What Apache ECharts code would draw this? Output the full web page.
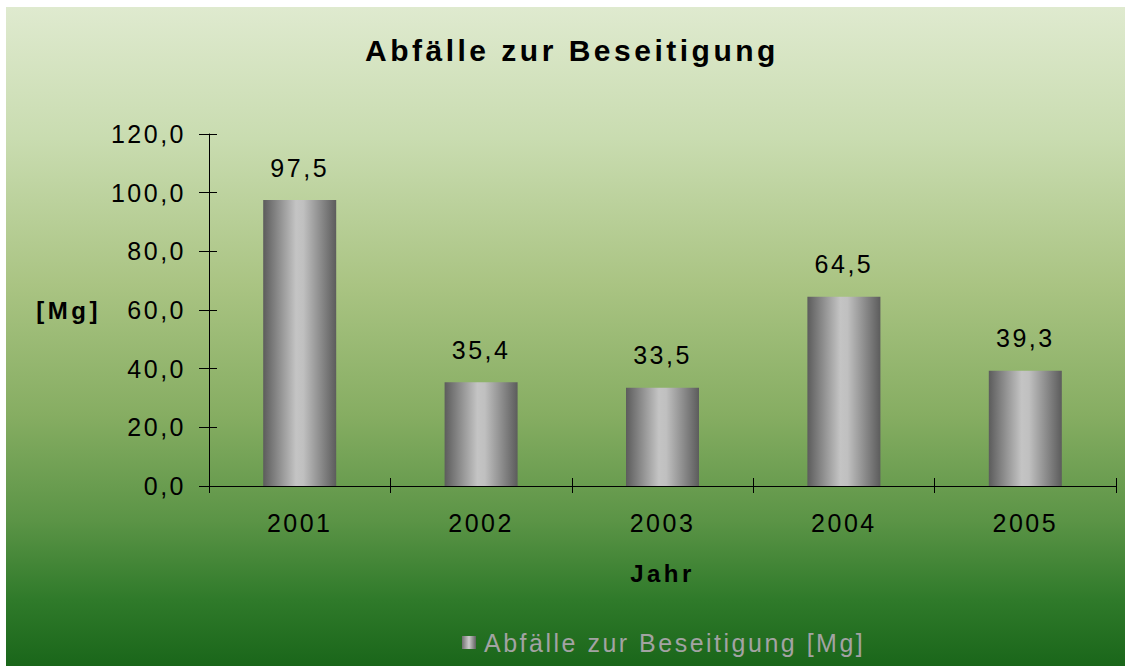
<!DOCTYPE html>
<html>
<head>
<meta charset="utf-8">
<title>Abfälle zur Beseitigung</title>
<script src="https://cdn.jsdelivr.net/npm/echarts@6/dist/echarts.min.js"></script>
<style>
  html, body { margin: 0; padding: 0; background: #ffffff; }
  #myChart {
    position: absolute; left: 6px; top: 7px; width: 1119px; height: 659px;
    background: linear-gradient(to bottom, #dfeacf 0%, #c9dcb0 20%, #aac483 42%, #86ad62 62%, #5b9446 78%, #2f7a2a 90%, #1a661a 100%);
  }
  #myChart text { letter-spacing: 2.5px; }
  #myChart text[style*="bold"] { letter-spacing: 3.5px; }
</style>
</head>
<body>
<div id="myChart"></div>
<script>
  // Daten
  let years = ['2001', '2002', '2003', '2004', '2005'];
  let mengen = [97.5, 35.4, 33.5, 64.5, 39.3];
  let seriesName = 'Abfälle zur Beseitigung [Mg]';
  let yMin = 0, yMax = 120, yStep = 20;

  function komma(v) {
    return v.toFixed(1).replace('.', ',');
  }

  let fontFam = '"Liberation Sans", Arial, sans-serif';
  let myChart = echarts.init(document.getElementById('myChart'), null, {renderer: 'svg'});
  myChart.setOption({
    animation: false,
    textStyle: { fontFamily: fontFam },
    title: {
      text: 'Abfälle zur Beseitigung',
      left: 354,
      top: 23,
      textStyle: { fontSize: 30, fontWeight: 'bold', color: '#000', fontFamily: fontFam }
    },
    legend: {
      left: 451,
      top: 618,
      itemWidth: 14,
      itemHeight: 13,
      itemGap: 10,
      icon: 'rect',
      itemStyle: {
        color: new echarts.graphic.LinearGradient(0, 0, 1, 0, [
          { offset: 0, color: '#707070' },
          { offset: 0.5, color: '#cccccc' },
          { offset: 1, color: '#606060' }
        ])
      },
      textStyle: { fontSize: 25, color: '#a3a3a3', fontFamily: fontFam, padding: [0, 0, 0, 3] },
      data: [seriesName]
    },
    grid: { left: 203, right: 9, top: 127, bottom: 180 },
    xAxis: [{
      type: 'category',
      data: years,
      name: 'Jahr',
      nameLocation: 'middle',
      nameGap: 75,
      nameTextStyle: { fontSize: 24, fontWeight: 'bold', color: '#000' },
      axisLine: { lineStyle: { color: '#000', width: 1 } },
      axisTick: { show: true, length: 7, lineStyle: { color: '#000' } },
      axisLabel: { fontSize: 25, color: '#000', margin: 24 }
    }, {
      type: 'category',
      data: years,
      position: 'bottom',
      offset: 0,
      axisLine: { show: false },
      axisTick: { show: true, inside: true, length: 8, lineStyle: { color: '#000' } },
      axisLabel: { show: false }
    }],
    yAxis: [{
      type: 'value',
      min: yMin,
      max: yMax,
      interval: yStep,
      name: '[Mg]',
      nameLocation: 'middle',
      nameRotate: 0,
      nameGap: 108,
      nameTextStyle: { fontSize: 24, fontWeight: 'bold', color: '#000' },
      splitLine: { show: false },
      axisLine: { show: true, lineStyle: { color: '#000', width: 1 } },
      axisTick: { show: true, length: 10, lineStyle: { color: '#000' } },
      axisLabel: { fontSize: 25, color: '#000', margin: 23, formatter: komma }
    }, {
      type: 'value',
      min: yMin,
      max: yMax,
      interval: yStep,
      position: 'left',
      offset: 0,
      splitLine: { show: false },
      axisLine: { show: false },
      axisTick: { show: true, inside: true, length: 8, lineStyle: { color: '#000' } },
      axisLabel: { show: false }
    }],
    series: [{
      name: seriesName,
      type: 'bar',
      data: mengen,
      barWidth: 73,
      itemStyle: {
        color: new echarts.graphic.LinearGradient(0, 0, 1, 0, [
          { offset: 0, color: '#5c5c5c' },
          { offset: 0.45, color: '#c4c4c4' },
          { offset: 0.55, color: '#c0c0c0' },
          { offset: 1, color: '#5c5c5c' }
        ])
      },
      label: {
        show: true,
        position: 'top',
        distance: 20,
        fontSize: 25,
        color: '#000',
        formatter: function (p) { return komma(p.value); }
      }
    }]
  });
</script>
</body>
</html>
